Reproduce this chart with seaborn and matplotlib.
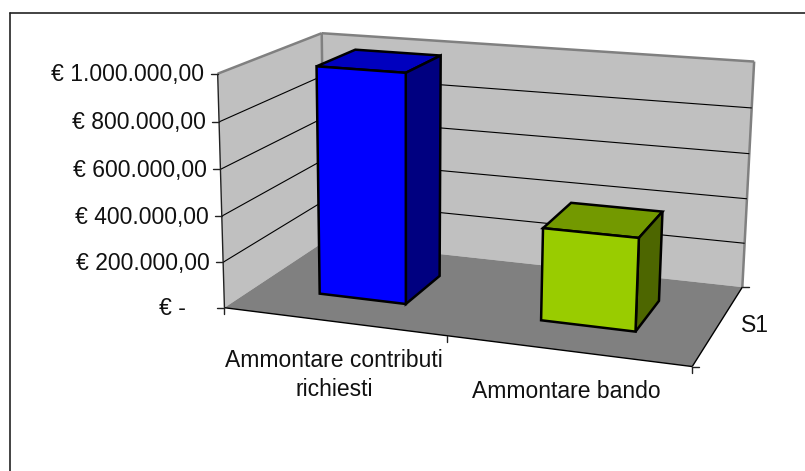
import matplotlib
matplotlib.use("Agg")
import matplotlib.pyplot as plt
import numpy as np
import seaborn as sns
from matplotlib.colors import to_rgb

# Data
categories = ["Ammontare contributi\nrichiesti", "Ammontare bando"]
values = [995000, 395000]
bar_colors = ["#0000FF", "#99CC00"]
y_ticks = [0, 200000, 400000, 600000, 800000, 1000000]
y_labels = ["€ -    ", "€ 200.000,00", "€ 400.000,00", "€ 600.000,00", "€ 800.000,00", "€ 1.000.000,00"]
series_name = "S1"

sns.set_theme(style="white")
plt.rcParams["font.family"] = ["Liberation Sans", "DejaVu Sans"]

fig = plt.figure(figsize=(8.05, 4.71), dpi=100)
ax = fig.add_axes([0, 0, 1, 1])
ax.set_xlim(0, 805)
ax.set_ylim(471, 0)
ax.axis("off")

# seaborn works out the bars, we then push them through the 3d camera below
helper = fig.add_axes([0, 0, 0.1, 0.1])
sns.barplot(x=categories, y=values, hue=categories, palette=bar_colors, width=0.4,
            saturation=1, legend=False, ax=helper)
bars = [(p.get_x(), p.get_width(), p.get_height(), to_rgb(p.get_facecolor())) for p in helper.patches]
helper.remove()

# camera: (u along categories, v up, w depth) -> pixels, fitted on the box corners
anchors = [
    ((0, 0, 0), (226, 307.3)),
    ((1, 0, 0), (691.7, 365.7)),
    ((0, 0, 1), (323, 241)),
    ((1, 0, 1), (743, 286.7)),
    ((0, 1, 0), (216.7, 72.7)),
    ((0, 1, 1), (322.7, 34)),
    ((1, 1, 1), (754, 61.7)),
    ((0.5, 0, 0), (447, 338)),
]
rows = []
for (u, v, w), (px, py) in anchors:
    rows.append([u, v, w, 1, 0, 0, 0, 0, -px * u, -px * v, -px * w, -px])
    rows.append([0, 0, 0, 0, u, v, w, 1, -py * u, -py * v, -py * w, -py])
cam = np.linalg.svd(np.array(rows))[2][-1].reshape(3, 4)


def proj(u, v, w):
    x, y, z = cam @ np.array([u, v, w, 1.0])
    return x / z, y / z


def face(points, **kw):
    ax.fill(*zip(*[proj(*p) for p in points]), **kw)


def line(a, b, **kw):
    ax.plot(*zip(proj(*a), proj(*b)), solid_capstyle="butt", **kw)


# outer chart area, only top and left show
ax.plot([10, 805], [13, 13], color="#222222", lw=1.2)
ax.plot([10, 10], [13, 471], color="#222222", lw=1.2)

# walls and floor
face([(0, 0, 0), (0, 1, 0), (0, 1, 1), (0, 0, 1)], facecolor="#C0C0C0", edgecolor="none", zorder=1)
face([(0, 0, 1), (0, 1, 1), (1, 1, 1), (1, 0, 1)], facecolor="#C0C0C0", edgecolor="none", zorder=1)
face([(0, 0, 0), (1, 0, 0), (1, 0, 1), (0, 0, 1)], facecolor="#808080", edgecolor="none", zorder=1)
line((0, 1, 0), (0, 1, 1), color="#808080", lw=1.8, zorder=2)
line((0, 1, 1), (1, 1, 1), color="#808080", lw=1.8, zorder=2)
line((0, 1, 1), (0, 0, 1), color="#808080", lw=1.8, zorder=2)
line((1, 1, 1), (1, 0, 1), color="#808080", lw=1.8, zorder=2)

# gridlines, the top one is the grey wall edge
for t in y_ticks[1:-1]:
    v = t / y_ticks[-1]
    line((0, v, 0), (0, v, 1), color="black", lw=0.8, zorder=2)
    line((0, v, 1), (1, v, 1), color="black", lw=0.8, zorder=2)

# bars
w0, w1 = 0.3, 0.7
for x, width, height, color in bars:
    u0 = (x + 0.5) / len(categories)
    u1 = (x + width + 0.5) / len(categories)
    v = height / y_ticks[-1]
    style = dict(edgecolor="black", lw=1.8, joinstyle="miter", zorder=3)
    face([(u0, v, w0), (u1, v, w0), (u1, v, w1), (u0, v, w1)],
         facecolor=tuple(c * 0.75 for c in color), **style)
    face([(u1, 0, w0), (u1, v, w0), (u1, v, w1), (u1, 0, w1)],
         facecolor=tuple(c * 0.5 for c in color), **style)
    face([(u0, 0, w0), (u1, 0, w0), (u1, v, w0), (u0, v, w0)], facecolor=color, **style)

# axes lines
line((0, 1, 0), (0, 0, 0), color="#222222", lw=1, zorder=4)
line((0, 0, 0), (1, 0, 0), color="black", lw=1, zorder=4)
line((1, 0, 0), (1, 0, 1), color="black", lw=1, zorder=4)

# value axis ticks and labels, they follow the lean of the axis
for t, lab in zip(y_ticks, y_labels):
    px, py = proj(0, t / y_ticks[-1], 0)
    ax.plot([px - 7, px], [py, py], color="#222222", lw=1, zorder=4)
    ax.text(px - 13.5, py + 1, lab, ha="right", va="center", fontsize=16.5, color="#111111")

# category ticks and labels
for i in range(len(categories) + 1):
    px, py = proj(i / len(categories), 0, 0)
    ax.plot([px, px], [py, py + 6], color="#222222", lw=1, zorder=4)
ax.text(334, 375, categories[0], ha="center", va="center", fontsize=16.5, color="#111111", linespacing=1.36)
ax.text(566, 391, categories[1], ha="center", va="center", fontsize=16.5, color="#111111")

# depth axis ticks and series label
for w in [0, 1]:
    px, py = proj(1, 0, w)
    ax.plot([px, px + 7], [py, py], color="#222222", lw=1, zorder=4)
ax.text(755, 325, series_name, ha="center", va="center", fontsize=16.5, color="#111111")

fig.savefig("out.png", dpi=100)
